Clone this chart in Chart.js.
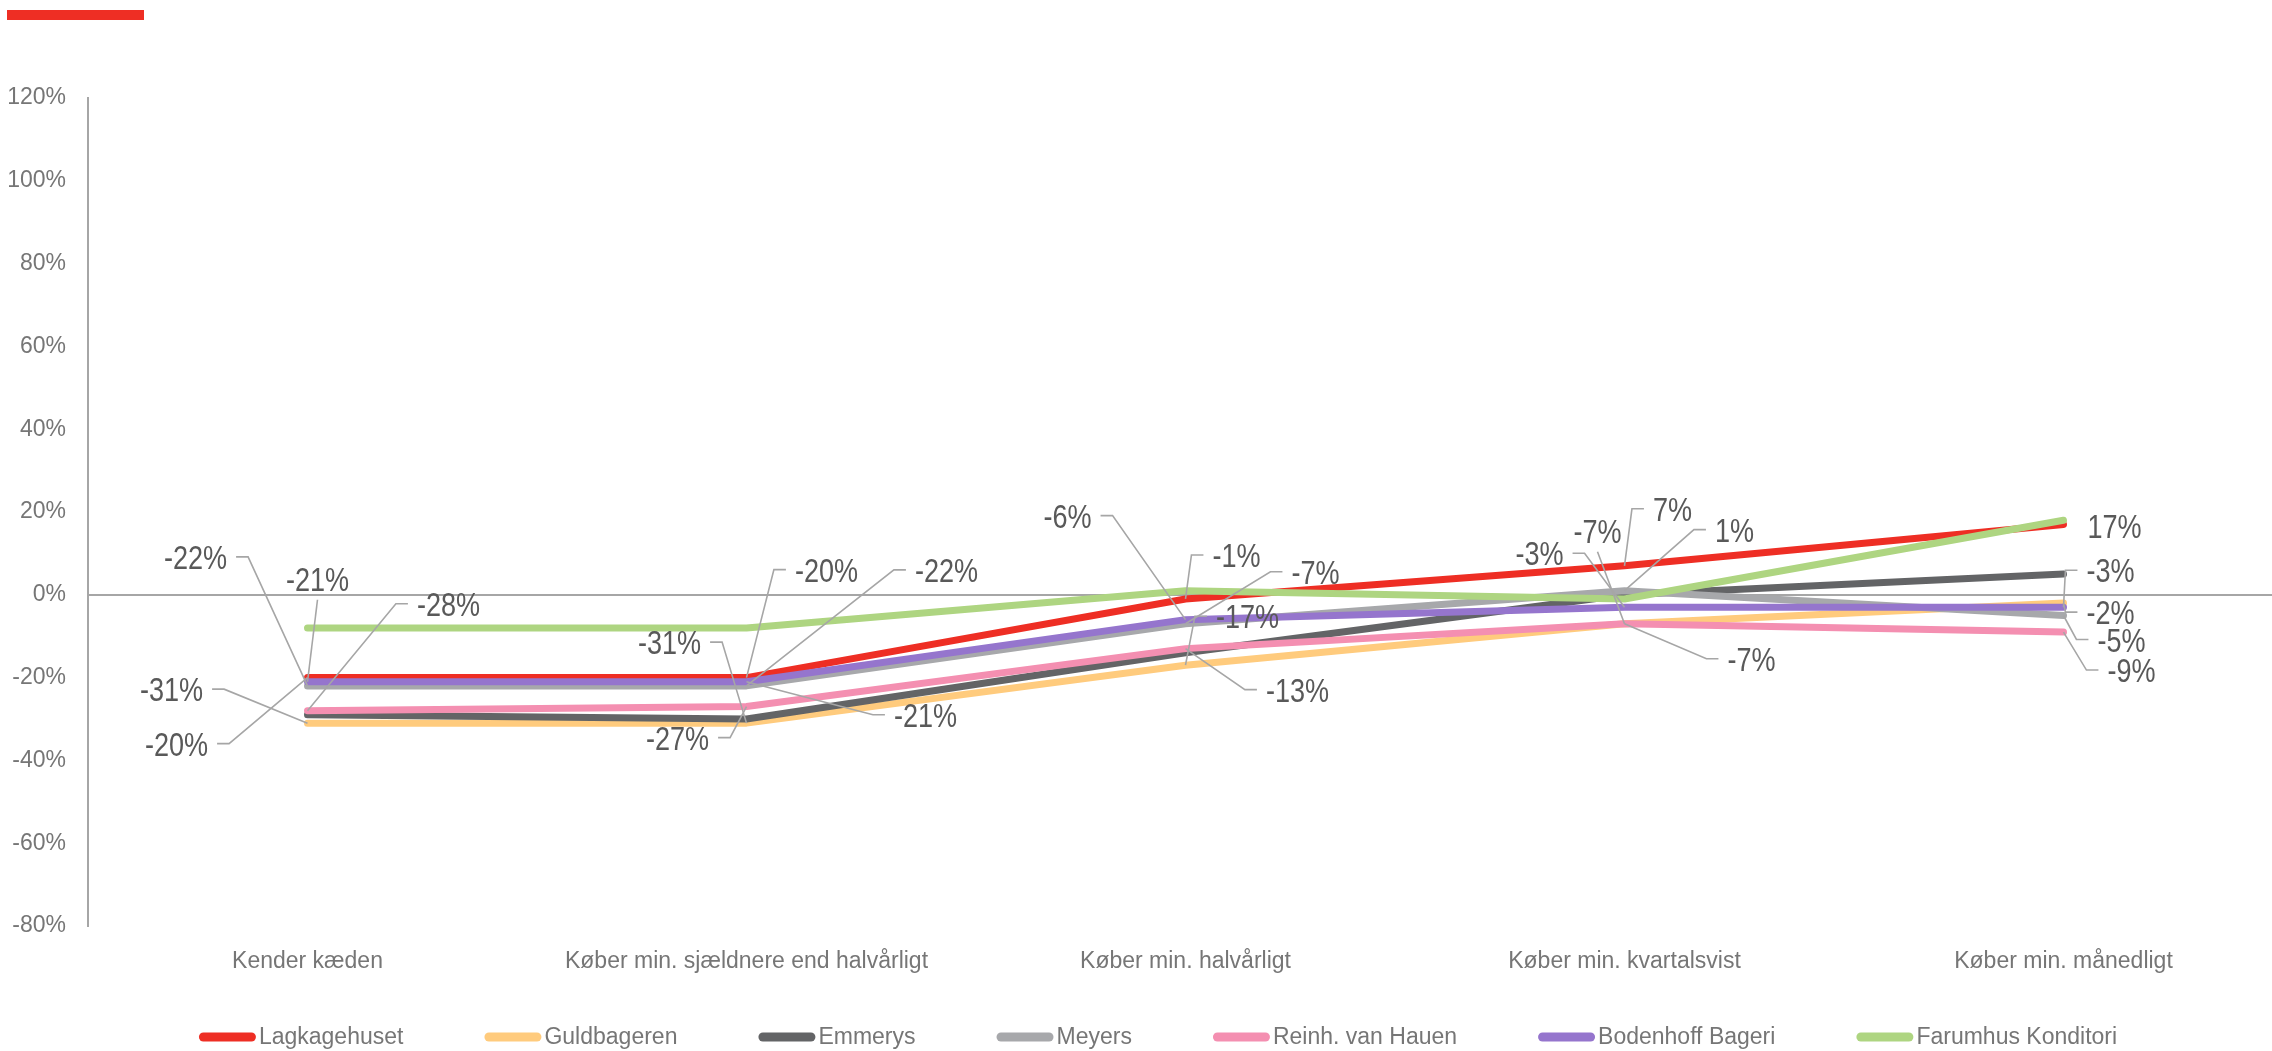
<!DOCTYPE html>
<html lang="da">
<head>
<meta charset="UTF-8">
<title>Kendskab og køb pr. kæde</title>
<script src="https://cdn.jsdelivr.net/npm/chart.js@4.4.1/dist/chart.umd.min.js"></script>
<style>
  html, body { margin: 0; padding: 0; background: #fff; overflow: hidden; }
  .wrap { position: relative; width: 2284px; height: 1051px; }
  .topbar { position: absolute; left: 7px; top: 10px; width: 137px; height: 10px; background: #EE2E24; }
  canvas { position: absolute; left: 0; top: 0; }
</style>
</head>
<body>
<div class="wrap">
  <div class="topbar"></div>
  <canvas id="chart" width="2284" height="1051"></canvas>
</div>
<script>
// --- data ---
const categories = ['Kender kæden', 'Køber min. sjældnere end halvårligt', 'Køber min. halvårligt', 'Køber min. kvartalsvist', 'Køber min. månedligt'];
const seriesNames = ['Lagkagehuset', 'Guldbageren', 'Emmerys', 'Meyers', 'Reinh. van Hauen', 'Bodenhoff Bageri', 'Farumhus Konditori'];
const lagkagehuset = [-20, -20, -1, 7, 17];
const guldbageren  = [-31, -31, -17, -7, -2];
const emmerys      = [-29, -30, -14, 0, 5];
const meyers       = [-22, -22, -7, 1, -5];
const reinhVanHauen = [-28, -27, -13, -7, -9];
const bodenhoff    = [-21, -21, -6, -3, -3];
const farumhus     = [-8, -8, 1, -1, 18];
const yTickValues  = [-80, -60, -40, -20, 0, 20, 40, 60, 80, 100, 120];

const seriesValues = [lagkagehuset, guldbageren, emmerys, meyers, reinhVanHauen, bodenhoff, farumhus];
const seriesColors = ['#EE2E24', '#FFCB7D', '#636466', '#A7A8AB', '#F48FB1', '#9575CD', '#AED581'];

// data label placement: [series, point, dx, dy, leader side]
const labelSpots = [
  [3, 0, -112, -126, 'right'], [5, 0, 10, -100, 'bottom'], [4, 0, 141, -104, 'left'],
  [1, 0, -136, -31, 'right'], [0, 0, -131, 69, 'right'],
  [1, 1, -77, -78, 'right'], [4, 1, -69, 34, 'right'], [0, 1, 80, -105, 'left'],
  [3, 1, 200, -113, 'left'], [5, 1, 179, 36, 'left'],
  [5, 2, -118, -101, 'right'], [0, 2, 51, -41, 'left'], [3, 2, 130, -49, 'left'],
  [1, 2, 62, -46, 'left'], [4, 2, 112, 44, 'left'],
  [5, 3, -85, -51, 'right'], [4, 3, -27, -90, 'bottom'], [0, 3, 48, -54, 'left'],
  [3, 3, 110, -58, 'left'], [1, 3, 127, 38, 'left'],
  [0, 4, 51, 4, 'none'], [5, 4, 47, -34, 'left'], [1, 4, 47, 12, 'left'],
  [3, 4, 58, 27, 'left'], [4, 4, 68, 41, 'left']
];

const textFont = '"Liberation Sans", Arial, sans-serif';
const labelSquash = 0.82; // labels in the original use a condensed face

const leaderLabels = {
  id: 'leaderLabels',
  afterDatasetsDraw(chart) {
    const ctx = chart.ctx;
    ctx.save();
    ctx.font = '33px ' + textFont;
    ctx.textAlign = 'center';
    ctx.textBaseline = 'middle';
    labelSpots.forEach(([ds, i, dx, dy, side]) => {
      const pt = chart.getDatasetMeta(ds).data[i];
      const text = chart.data.datasets[ds].data[i] + '%';
      const cx = pt.x + dx, cy = pt.y + dy;
      const hw = ctx.measureText(text).width * labelSquash / 2;
      ctx.strokeStyle = '#A6A6A6';
      ctx.lineWidth = 1.6;
      ctx.beginPath();
      if (side === 'left') {
        const sx = cx - hw - 9;
        ctx.moveTo(sx, cy - 3); ctx.lineTo(sx - 12, cy - 3); ctx.lineTo(pt.x, pt.y);
      } else if (side === 'right') {
        const sx = cx + hw + 9;
        ctx.moveTo(sx, cy - 3); ctx.lineTo(sx + 12, cy - 3); ctx.lineTo(pt.x, pt.y);
      } else if (side === 'bottom') {
        ctx.moveTo(cx, cy + 18); ctx.lineTo(pt.x, pt.y);
      }
      ctx.stroke();
      ctx.save();
      ctx.translate(cx, cy);
      ctx.scale(labelSquash, 1);
      ctx.fillStyle = '#595959';
      ctx.fillText(text, 0, 0);
      ctx.restore();
    });
    ctx.restore();
  }
};

const lineLegend = {
  id: 'lineLegend',
  afterDraw(chart) {
    const ctx = chart.ctx;
    const sw = 57, gapText = 3, gapItem = 81, centerX = 1158, y = 1037;
    ctx.save();
    ctx.font = '23px ' + textFont;
    ctx.textBaseline = 'middle';
    ctx.textAlign = 'left';
    const items = chart.data.datasets.map(d => ({ text: d.label, color: d.borderColor, w: ctx.measureText(d.label).width }));
    const total = items.reduce((s, it) => s + sw + gapText + it.w, 0) + gapItem * (items.length - 1);
    let x = centerX - total / 2;
    items.forEach(it => {
      ctx.strokeStyle = it.color;
      ctx.lineWidth = 9;
      ctx.lineCap = 'round';
      ctx.beginPath();
      ctx.moveTo(x + 4.5, y); ctx.lineTo(x + sw - 4.5, y);
      ctx.stroke();
      ctx.fillStyle = '#767676';
      ctx.fillText(it.text, x + sw + gapText, y + 1);
      x += sw + gapText + it.w + gapItem;
    });
    ctx.restore();
  }
};

const datasets = seriesNames.map((name, i) => ({
  label: name,
  data: seriesValues[i],
  borderColor: seriesColors[i],
  backgroundColor: seriesColors[i],
  borderWidth: 7,
  borderCapStyle: 'round',
  borderJoinStyle: 'round',
  pointRadius: 0,
  tension: 0,
  fill: false,
  order: seriesNames.length - 1 - i
}));

new Chart(document.getElementById('chart'), {
  type: 'line',
  data: { labels: categories, datasets: datasets },
  options: {
    responsive: false,
    animation: false,
    layout: { padding: { top: 98, bottom: 65, left: 0, right: 1 } },
    plugins: {
      legend: { display: false },
      tooltip: { enabled: false }
    },
    scales: {
      x: {
        offset: true,
        grid: { display: false },
        border: { display: false },
        ticks: {
          color: '#767676',
          font: { family: textFont, size: 23 },
          padding: 14,
          maxRotation: 0,
          autoSkip: false
        },
        afterFit: s => { s.height = 60; }
      },
      y: {
        min: -80,
        max: 120,
        afterBuildTicks: s => { s.ticks = yTickValues.map(v => ({ value: v })); },
        grid: {
          drawTicks: false,
          lineWidth: 2,
          color: c => (c.tick && c.tick.value === 0) ? '#A6A6A6' : 'rgba(0,0,0,0)'
        },
        border: { display: true, color: '#A6A6A6', width: 2 },
        ticks: {
          color: '#767676',
          font: { family: textFont, size: 23 },
          padding: 22,
          callback: v => v + '%'
        },
        afterFit: s => { s.width = 88; }
      }
    }
  },
  plugins: [leaderLabels, lineLegend]
});
</script>
</body>
</html>
